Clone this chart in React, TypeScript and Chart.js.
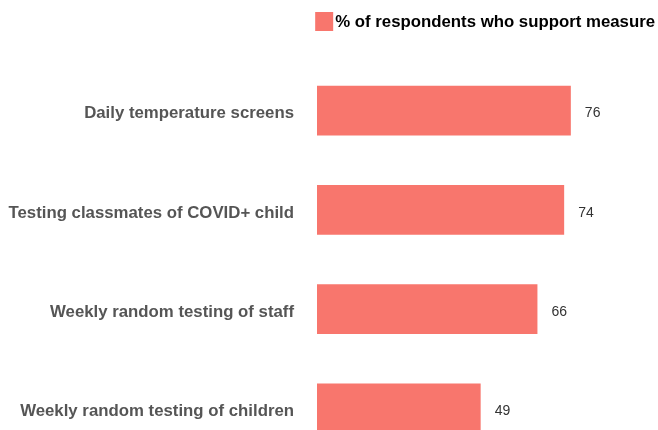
import React, { useEffect, useRef } from "react";
import { Chart, registerables } from "chart.js";

Chart.register(...registerables);

const categories = [
  "Daily temperature screens",
  "Testing classmates of COVID+ child",
  "Weekly random testing of staff",
  "Weekly random testing of children",
];
const supportValues = [76, 74, 66, 49];
const seriesLabel = "% of respondents who support measure";
const barColor = "#F8766D";

const FONT = "'Liberation Sans', Arial, Helvetica, sans-serif";

export default function App() {
  const ref = useRef<HTMLCanvasElement | null>(null);

  useEffect(() => {
    if (!ref.current) return;
    const valueLabels = {
      id: "valueLabels",
      afterDatasetsDraw(chart: any) {
        const ctx = chart.ctx;
        const meta = chart.getDatasetMeta(0);
        ctx.save();
        ctx.font = `14px ${FONT}`;
        ctx.fillStyle = "#333333";
        ctx.textAlign = "left";
        ctx.textBaseline = "middle";
        meta.data.forEach((el: any, i: number) => {
          ctx.fillText(String(supportValues[i]), el.x + 14, el.y + 3);
        });
        ctx.restore();
      },
    };
    const customLegend = {
      id: "customLegend",
      afterDraw(chart: any) {
        const ctx = chart.ctx;
        ctx.save();
        ctx.font = `bold 16.8px ${FONT}`;
        const tw = ctx.measureText(seriesLabel).width;
        const right = chart.width - 3;
        const textX = right - tw;
        const boxW = 18;
        const boxX = textX - 2 - boxW;
        ctx.fillStyle = barColor;
        ctx.fillRect(boxX, 12, boxW, 19);
        ctx.fillStyle = "#000000";
        ctx.textAlign = "left";
        ctx.textBaseline = "middle";
        ctx.fillText(seriesLabel, textX, 22);
        ctx.restore();
      },
    };
    const chart = new Chart(ref.current, {
      type: "bar",
      data: {
        labels: categories,
        datasets: [
          {
            label: seriesLabel,
            data: supportValues,
            backgroundColor: barColor,
            borderWidth: 0,
            barPercentage: 0.5,
            categoryPercentage: 1,
          },
        ],
      },
      options: {
        indexAxis: "y",
        responsive: false,
        animation: false,
        layout: { padding: { top: 61, right: 7, bottom: 2, left: 0 } },
        plugins: {
          legend: { display: false },
          tooltip: { enabled: false },
        },
        scales: {
          x: { display: false, min: 0, max: 100 },
          y: {
            grid: { display: false, drawTicks: false },
            border: { display: false },
            afterFit(scale: any) {
              scale.width = 317;
              scale.paddingTop = 0;
              scale.paddingBottom = 0;
            },
            ticks: {
              padding: 23,
              labelOffset: 3,
              color: "#555555",
              font: { family: FONT, size: 16.8, weight: "bold" },
            },
          },
        },
      },
      plugins: [valueLabels, customLegend],
    });
    return () => chart.destroy();
  }, []);

  return (
    <div
      style={{
        position: "absolute",
        left: 0,
        top: 0,
        width: 658,
        height: 430,
        overflow: "hidden",
        background: "#ffffff",
      }}
    >
      <canvas ref={ref} width={658} height={460} style={{ display: "block" }} />
    </div>
  );
}
